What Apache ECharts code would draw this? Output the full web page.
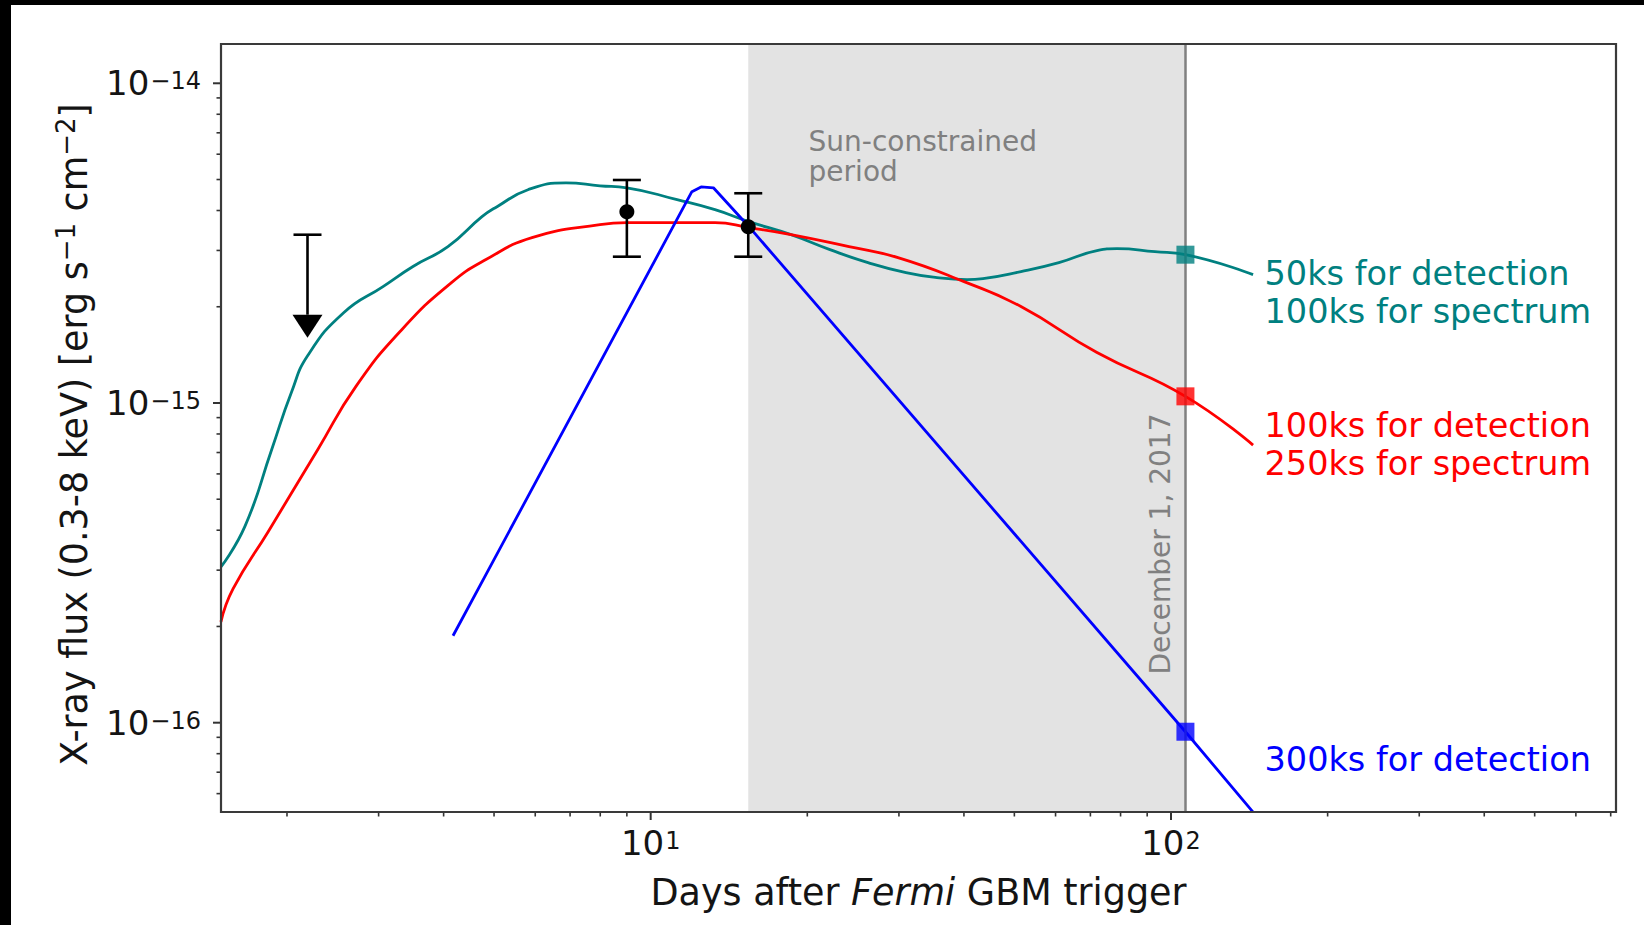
<!DOCTYPE html>
<html>
<head>
<meta charset="utf-8">
<script src="https://cdn.jsdelivr.net/npm/echarts@6.0.0/dist/echarts.min.js"></script>
<style>
  html, body { margin: 0; padding: 0; background: #000; width: 1644px; height: 925px; overflow: hidden; }
  #chart { position: absolute; left: 11px; top: 5px; width: 1633px; height: 920px; background: #fff; }
</style>
</head>
<body>
<div id="chart"></div>
<script>
// Model X-ray light curves: [days after trigger, flux (erg s^-1 cm^-2)]
const tealCurve = [
  [1.493, 3.07e-16], [1.661, 4.12e-16], [1.87, 7.17e-16], [2.04, 1.08e-15],
  [2.194, 1.41e-15], [2.573, 1.919e-15], [3.059, 2.313e-15], [3.493, 2.672e-15],
  [4.077, 3.084e-15], [4.740, 3.826e-15], [5.066, 4.112e-15], [5.810, 4.645e-15],
  [6.875, 4.884e-15], [7.989, 4.780e-15], [9.00, 4.711e-15], [11.24, 4.323e-15],
  [13.29, 4.023e-15], [15.45, 3.692e-15], [18.61, 3.362e-15], [22.11, 3.018e-15],
  [26.16, 2.749e-15], [30.95, 2.557e-15], [35.50, 2.467e-15], [40.55, 2.432e-15],
  [43.52, 2.449e-15], [51.48, 2.576e-15], [60.89, 2.749e-15], [72.07, 2.996e-15],
  [78.74, 3.040e-15], [93.14, 2.974e-15], [106.6, 2.910e-15], [143.8, 2.521e-15]
];
const redCurve = [
  [1.493, 2.067e-16], [1.575, 2.62e-16], [1.839, 3.95e-16], [2.294, 7.17e-16],
  [2.714, 1.127e-15], [3.327, 1.698e-15], [4.13, 2.37e-15], [4.825, 2.809e-15],
  [5.914, 3.291e-15], [7.989, 3.612e-15], [9.00, 3.664e-15], [11.24, 3.664e-15],
  [13.29, 3.664e-15], [15.45, 3.536e-15], [18.61, 3.362e-15], [24.05, 3.084e-15],
  [29.87, 2.85e-15], [40.02, 2.397e-15], [51.48, 2.003e-15], [72.07, 1.439e-15],
  [106.6, 1.049e-15], [143.8, 7.38e-16]
];
const blueCurve = [
  [4.17, 1.87e-16], [12.0, 4.58e-15], [12.5, 4.74e-15], [13.2, 4.71e-15],
  [15.45, 3.56e-15], [106.6, 9.37e-17], [143.8, 5.25e-17]
];

// December 1, 2017 and the flux each model reaches on that day
const decemberDay = 106.6;
const decemberFlux = { teal: 2.91e-15, red: 1.049e-15, blue: 9.37e-17 };

// Start of the Sun-constrained window (days)
const sunStart = 15.4;

// Measured fluxes: [day, flux, lower, upper]
const detections = [
  [9.0, 3.967e-15, 2.868e-15, 4.983e-15],
  [15.4, 3.559e-15, 2.868e-15, 4.529e-15]
];
// Upper limit: [day, limit, arrow end]
const upperLimits = [[2.19, 3.36e-15, 1.60e-15]];

// Axis ranges and tick values
const X_MIN = 1.4935, X_MAX = 716.6;
const Y_MIN = 5.256e-17, Y_MAX = 1.327e-14;
const xMajorTicks = [10, 100];
const xMinorTicks = [2, 3, 4, 5, 6, 7, 8, 9, 20, 30, 40, 50, 60, 70, 80, 90, 200, 300, 400, 500, 600, 700];
const yMajorTicks = [1e-16, 1e-15, 1e-14];
const yMinorTicks = [6e-17, 7e-17, 8e-17, 9e-17,
  2e-16, 3e-16, 4e-16, 5e-16, 6e-16, 7e-16, 8e-16, 9e-16,
  2e-15, 3e-15, 4e-15, 5e-15, 6e-15, 7e-15, 8e-15, 9e-15];

const FONT = '"DejaVu Sans", "Noto Sans", sans-serif';
const TEAL = '#008080', RED = '#ff0000', BLUE = '#0000ff', INK = '#141414';

const GRID = { left: 210, top: 39, width: 1395, height: 768 };

function powLabel(v) {
  const e = Math.log10(v);
  const r = Math.round(e);
  if (Math.abs(e - r) > 1e-6) return '';
  return '{b|10}{s|' + String(r).replace('-', '\u2212') + '}';
}
const tickRich = {
  b: { fontSize: 34, lineHeight: 34, fontFamily: FONT, color: INK, verticalAlign: 'bottom', padding: [6, 0, 0, 0] },
  s: { fontSize: 24, lineHeight: 24, fontFamily: FONT, color: INK, verticalAlign: 'top', padding: [3, 0, 0, 1] }
};

function tickSeries(axis, values, len, width) {
  return {
    type: 'custom', coordinateSystem: 'cartesian2d', silent: true, z: 12,
    data: values.map(v => axis === 'x' ? [v, Y_MIN] : [X_MIN, v]),
    renderItem(params, api) {
      const cs = params.coordSys;
      const p = api.coord([api.value(0), api.value(1)]);
      const shape = axis === 'x'
        ? { x1: p[0], y1: cs.y + cs.height, x2: p[0], y2: cs.y + cs.height + len }
        : { x1: cs.x, y1: p[1], x2: cs.x - len, y2: p[1] };
      return { type: 'line', shape, style: { stroke: '#333', lineWidth: width } };
    }
  };
}

const chart = echarts.init(document.getElementById('chart'), null, { renderer: 'svg' });

chart.setOption({
  animation: false,
  backgroundColor: '#fff',
  grid: Object.assign({ show: false }, GRID),
  xAxis: {
    type: 'log', min: X_MIN, max: X_MAX,
    axisLine: { show: false }, axisTick: { show: false }, splitLine: { show: false },
    axisLabel: { formatter: powLabel, margin: 14, rich: tickRich },
    name: 'Days after {i|Fermi} GBM trigger',
    nameLocation: 'middle', nameGap: 60,
    nameTextStyle: {
      fontFamily: FONT, fontSize: 36.5, lineHeight: 40, color: INK,
      rich: { i: { fontFamily: FONT, fontSize: 36.5, lineHeight: 40, fontStyle: 'italic', color: INK } }
    }
  },
  yAxis: {
    type: 'log', min: Y_MIN, max: Y_MAX,
    axisLine: { show: false }, axisTick: { show: false }, splitLine: { show: false },
    axisLabel: { formatter: powLabel, margin: 20, rich: tickRich },
    name: 'X-ray flux (0.3-8 keV) [erg s{s|\u22121} cm{s|\u22122}]',
    nameLocation: 'middle', nameRotate: 90, nameGap: 126,
    nameTextStyle: {
      fontFamily: FONT, fontSize: 36.5, lineHeight: 42, color: INK, padding: [0, 13, 0, 0],
      rich: { s: { fontFamily: FONT, fontSize: 26, lineHeight: 26, verticalAlign: 'top', color: INK } }
    }
  },
  series: [
    {
      name: '50ks', type: 'line', data: tealCurve, showSymbol: false, smooth: 0.5, silent: true, z: 3,
      lineStyle: { color: TEAL, width: 2.8 },
      markArea: {
        silent: true, itemStyle: { color: '#e3e3e3' },
        data: [[{ xAxis: sunStart }, { xAxis: decemberDay }]]
      },
      markLine: {
        silent: true, symbol: 'none', label: { show: false },
        lineStyle: { color: '#808080', width: 2.5, type: 'solid' },
        data: [{ xAxis: decemberDay }]
      }
    },
    {
      name: '100ks', type: 'line', data: redCurve, showSymbol: false, smooth: 0.5, silent: true, z: 3,
      lineStyle: { color: RED, width: 2.8 }
    },
    {
      name: '300ks', type: 'line', data: blueCurve, showSymbol: false, smooth: false, silent: true, z: 3,
      lineStyle: { color: BLUE, width: 2.8 }
    },
    {
      type: 'scatter', symbol: 'rect', symbolSize: 18, silent: true, z: 8,
      data: [
        { value: [decemberDay, decemberFlux.teal], itemStyle: { color: TEAL } },
        { value: [decemberDay, decemberFlux.red], itemStyle: { color: RED } },
        { value: [decemberDay, decemberFlux.blue], itemStyle: { color: BLUE } }
      ]
    },
    {
      type: 'custom', coordinateSystem: 'cartesian2d', silent: true, z: 9,
      data: detections,
      encode: { x: 0, y: 1 },
      renderItem(params, api) {
        const c = api.coord([api.value(0), api.value(1)]);
        const lo = api.coord([api.value(0), api.value(2)]);
        const hi = api.coord([api.value(0), api.value(3)]);
        const w = 14, st = { stroke: '#000', lineWidth: 2.6 };
        return {
          type: 'group', children: [
            { type: 'line', shape: { x1: c[0], y1: lo[1], x2: c[0], y2: hi[1] }, style: st },
            { type: 'line', shape: { x1: c[0] - w, y1: lo[1], x2: c[0] + w, y2: lo[1] }, style: st },
            { type: 'line', shape: { x1: c[0] - w, y1: hi[1], x2: c[0] + w, y2: hi[1] }, style: st },
            { type: 'circle', shape: { cx: c[0], cy: c[1], r: 7.5 }, style: { fill: '#000' } }
          ]
        };
      }
    },
    {
      type: 'custom', coordinateSystem: 'cartesian2d', silent: true, z: 9,
      data: upperLimits,
      encode: { x: 0, y: 1 },
      renderItem(params, api) {
        const top = api.coord([api.value(0), api.value(1)]);
        const tip = api.coord([api.value(0), api.value(2)]);
        const head = 23, hw = 15, w = 14, st = { stroke: '#000', lineWidth: 2.6 };
        const x = top[0];
        return {
          type: 'group', children: [
            { type: 'line', shape: { x1: x, y1: top[1], x2: x, y2: tip[1] - head }, style: st },
            { type: 'line', shape: { x1: x - w, y1: top[1], x2: x + w, y2: top[1] }, style: st },
            { type: 'polygon', shape: { points: [[x - hw, tip[1] - head], [x + hw, tip[1] - head], [x, tip[1]]] }, style: { fill: '#000' } }
          ]
        };
      }
    },
    tickSeries('x', xMajorTicks, 8, 2),
    tickSeries('x', xMinorTicks, 4.5, 1.6),
    tickSeries('y', yMajorTicks, 8, 2),
    tickSeries('y', yMinorTicks, 4.5, 1.6)
  ],
  graphic: [
    {
      type: 'rect', z: 100, silent: true,
      shape: { x: GRID.left, y: GRID.top, width: GRID.width, height: GRID.height },
      style: { fill: null, stroke: '#3a3a3a', lineWidth: 2.2 }
    },
    {
      type: 'text', z: 50, silent: true, x: 797.6, y: 151,
      style: { text: 'Sun-constrained\nperiod', font: '28px ' + FONT, fill: '#808080', lineHeight: 30,
        align: 'left', verticalAlign: 'middle', textAlign: 'left', textVerticalAlign: 'middle' }
    },
    {
      type: 'text', z: 50, silent: true, x: 1149, y: 539, rotation: Math.PI / 2,
      style: { text: 'December 1, 2017', font: '28px ' + FONT, fill: '#808080',
        align: 'center', verticalAlign: 'middle', textAlign: 'center', textVerticalAlign: 'middle' }
    },
    {
      type: 'text', z: 50, silent: true, x: 1253.5, y: 287.5,
      style: { text: '50ks for detection\n100ks for spectrum', font: '33.5px ' + FONT, fill: TEAL, lineHeight: 38,
        align: 'left', verticalAlign: 'middle', textAlign: 'left', textVerticalAlign: 'middle' }
    },
    {
      type: 'text', z: 50, silent: true, x: 1253.5, y: 439,
      style: { text: '100ks for detection\n250ks for spectrum', font: '33.5px ' + FONT, fill: RED, lineHeight: 38,
        align: 'left', verticalAlign: 'middle', textAlign: 'left', textVerticalAlign: 'middle' }
    },
    {
      type: 'text', z: 50, silent: true, x: 1253.5, y: 754,
      style: { text: '300ks for detection', font: '33.5px ' + FONT, fill: BLUE, lineHeight: 38,
        align: 'left', verticalAlign: 'middle', textAlign: 'left', textVerticalAlign: 'middle' }
    }
  ]
});
</script>
</body>
</html>
